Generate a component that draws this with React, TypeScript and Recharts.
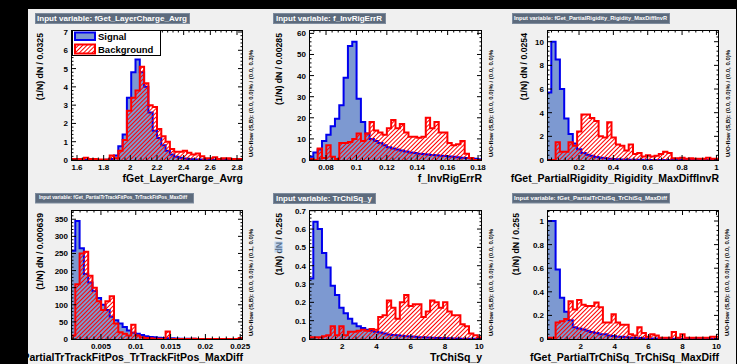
import React from 'react'
import { ComposedChart, Area, XAxis, YAxis } from 'recharts'

const FONT = '"Liberation Sans", Arial, Helvetica, sans-serif'
const SIG_LINE = '#0000ee'
const SIG_FILL = '#7d99d1'
const BKG_LINE = '#ff0000'

// fGet_LayerCharge_Avrg
const layerChargeSig = [
  0, 0, 0, 0, 0, 0, 0, 0, 0.02, 0.05, 0.25, 0.75, 1.4, 3.4, 4.8, 5.5, 4.8, 4.0, 2.6, 1.6,
  1.2, 0.8, 0.5, 0.3, 0.18, 0.12, 0.08, 0.06, 0.04, 0.03, 0.03, 0.02, 0.02, 0.01, 0.01, 0.01, 0, 0, 0, 0,
]
const layerChargeBkg = [
  0.05, 0.05, 0.05, 0.12, 0.05, 0.05, 0.03, 0.03, 0.03, 0.25, 0.1, 0.5, 1.1, 2.7, 3.4, 3.8, 5.1, 4.2, 3.0, 2.9,
  1.7, 1.3, 1.0, 0.6, 0.45, 0.45, 0.5, 0.4, 0.3, 0.35, 0.2, 0.1, 0.1, 0.15, 0.05, 0.1, 0.1, 0.05, 0.05, 0.05,
]
const layerChargeXTicks = [1.6, 1.8, 2, 2.2, 2.4, 2.6, 2.8]
const layerChargeYTicks = [0, 1, 2, 3, 4, 5, 6, 7]

// f_InvRigErrR
const invRigSig = [
  1.5, 3.5, 5, 9, 12, 16, 19.5, 26, 39, 54, 56, 29, 18, 12.5, 10, 9, 8, 7, 6, 5.5,
  5, 4.5, 4, 3.6, 3.3, 3, 2.8, 2.6, 2.4, 2.2, 2, 1.9, 1.7, 1.5, 1.3, 1.1, 1, 0.8, 0.6, 0.4,
]
const invRigBkg = [
  0.5, 0, 5.5, 1, 7, 1.5, 0.5, 8, 8, 8.5, 10, 12.5, 9, 12.5, 18, 14, 13, 12, 15, 19,
  15, 17, 13, 11, 11, 10.5, 11, 20, 15, 18, 13, 13, 8, 7, 7.5, 9, 3, 1, 0, 0,
]
const invRigXTicks = [0.08, 0.1, 0.12, 0.14, 0.16, 0.18]
const invRigYTicks = [0, 10, 20, 30, 40, 50, 60]

// fGet_PartialRigidity_Rigidity_MaxDiffInvR
const partRigSig = [
  5.7, 10, 8.5, 6, 3.5, 2.2, 1.4, 0.9, 0.6, 0.45, 0.35, 0.25, 0.2, 0.15, 0.1, 0.08, 0.06, 0.05, 0.04, 0.03,
  0.03, 0.02, 0.02, 0.01, 0.01, 0.01, 0, 0, 0, 0, 0, 0, 0, 0, 0, 0, 0, 0, 0, 0,
]
const partRigBkg = [
  0, 0, 1.5, 0.7, 0.7, 1.5, 1.2, 2.4, 3.85, 3.85, 3.55, 3.3, 2.0, 1.9, 3.2, 1.9, 1.3, 1.2, 0.8, 1.3,
  0.5, 0.6, 0.3, 0.4, 0.3, 0.35, 0.5, 0.7, 0.6, 0.15, 0.15, 0.2, 0.1, 0.15, 0.1, 0.1, 0.1, 0.2, 0.1, 0.1,
]
const partRigXTicks = [0.2, 0.4, 0.6, 0.8, 1]
const partRigYTicks = [0, 2, 4, 6, 8, 10]

// fGet_PartialTrTrackFitPos_TrTrackFitPos_MaxDiff
const fitPosSig = [
  258, 345, 265, 190, 165, 140, 120, 100, 85, 65, 55, 45, 35, 25, 18, 15, 12, 8, 6, 5,
  4, 3, 2.5, 2, 1.5, 1, 1, 0.5, 0.5, 0, 0, 0, 0, 0, 0, 0, 0, 0, 0, 0,
]
const fitPosBkg = [
  10, 160, 250, 255, 185, 150, 110, 85, 110, 125, 45, 20, 15, 10, 42, 10, 5, 3, 2, 1,
  1, 0, 22, 0, 0, 0, 0, 0, 1, 0, 0, 0, 0, 0, 0, 0, 0, 0, 0, 3,
]
const fitPosXTicks = [0.005, 0.01, 0.015, 0.02, 0.025]
const fitPosYTicks = [0, 50, 100, 150, 200, 250, 300, 350]

// TrChiSq_y
const chiSqSig = [
  0.33, 0.64, 0.6, 0.47, 0.39, 0.29, 0.24, 0.17, 0.14, 0.11, 0.085, 0.07, 0.06, 0.05, 0.045, 0.04, 0.035, 0.03, 0.025, 0.022,
  0.02, 0.018, 0.015, 0.013, 0.012, 0.01, 0.009, 0.008, 0.007, 0.006, 0.005, 0.005, 0.004, 0.003, 0.003, 0.002, 0.002, 0.001, 0.001, 0.001,
]
const chiSqBkg = [
  0.01, 0.01, 0.01, 0.015, 0.02, 0.07, 0.02, 0.07, 0.02, 0.04, 0.04, 0.045, 0.05, 0.045, 0.055, 0.05, 0.12, 0.13, 0.21, 0.17,
  0.11, 0.2, 0.24, 0.18, 0.19, 0.19, 0.12, 0.15, 0.21, 0.2, 0.17, 0.2, 0.15, 0.13, 0.13, 0.08, 0.07, 0.03, 0.02, 0.01,
]
const chiSqXTicks = [2, 4, 6, 8, 10]
const chiSqYTicks = [0, 0.1, 0.2, 0.3, 0.4, 0.5, 0.6, 0.7]

// fGet_PartialTrChiSq_TrChiSq_MaxDiff
const partChiSig = [
  1.0, 1.0, 0.59, 0.35, 0.23, 0.16, 0.1, 0.09, 0.08, 0.07, 0.06, 0.05, 0.04, 0.04, 0.03, 0.025, 0.02, 0.02, 0.015, 0.01,
  0.01, 0.008, 0.006, 0.005, 0.004, 0.004, 0.003, 0.002, 0.002, 0.002, 0.001, 0.001, 0.001, 0, 0, 0, 0, 0, 0, 0,
]
const partChiBkg = [
  0.01, 0.01, 0.14, 0.15, 0.17, 0.32, 0.25, 0.33, 0.29, 0.28, 0.28, 0.31, 0.27, 0.14, 0.14, 0.21, 0.14, 0.12, 0.12, 0.04,
  0.03, 0.1, 0.05, 0.02, 0.04, 0.03, 0.01, 0.01, 0.01, 0.06, 0.01, 0.04, 0.01, 0.01, 0.01, 0.01, 0.01, 0.01, 0.02, 0.02,
]
const partChiXTicks = [2, 4, 6, 8, 10]
const partChiYTicks = [0, 0.2, 0.4, 0.6, 0.8, 1]

type Frame = { x: number; y: number; w: number; h: number }
type Panel = {
  title: string
  xTitle: string
  yTitle: string
  flow: string
  sig: number[]
  bkg: number[]
  xDomain: [number, number]
  yMax: number
  xTicks: number[]
  yTicks: number[]
  frame: Frame
  box: { x: number; y: number; w: number; h: number; tx: number; tw: number; fs: number; base: number }
  yTitleX: number
  flowX: number
}

const panels: Panel[] = [
  {
    title: 'Input variable: fGet_LayerCharge_Avrg',
    xTitle: 'fGet_LayerCharge_Avrg',
    yTitle: '(1/N) dN / 0.0325',
    flow: 'U/O-flow (S,B): (0.0, 0.0)% / (0.0, 0.3)%',
    sig: layerChargeSig,
    bkg: layerChargeBkg,
    xDomain: [1.555, 2.845],
    yMax: 7.11,
    xTicks: layerChargeXTicks,
    yTicks: layerChargeYTicks,
    frame: { x: 71, y: 30, w: 172, h: 130 },
    box: { x: 35, y: 13, w: 154, h: 10, tx: 37, tw: 150, fs: 7, base: 7.6 },
    yTitleX: 43,
    flowX: 253,
  },
  {
    title: 'Input variable: f_InvRigErrR',
    xTitle: 'f_InvRigErrR',
    yTitle: '(1/N) dN / 0.00285',
    flow: 'U/O-flow (S,B): (0.0, 0.0)% / (0.0, 0.0)%',
    sig: invRigSig,
    bkg: invRigBkg,
    xDomain: [0.0688, 0.1826],
    yMax: 61.6,
    xTicks: invRigXTicks,
    yTicks: invRigYTicks,
    frame: { x: 309, y: 30, w: 173, h: 130 },
    box: { x: 273, y: 13, w: 112, h: 10, tx: 276, tw: 106, fs: 7, base: 7.6 },
    yTitleX: 282,
    flowX: 493,
  },
  {
    title: 'Input variable: fGet_PartialRigidity_Rigidity_MaxDiffInvR',
    xTitle: 'fGet_PartialRigidity_Rigidity_MaxDiffInvR',
    yTitle: '(1/N) dN / 0.0254',
    flow: 'U/O-flow (S,B): (0.0, 0.0)% / (0.0, 0.0)%',
    sig: partRigSig,
    bkg: partRigBkg,
    xDomain: [0.0136, 1.015],
    yMax: 10.99,
    xTicks: partRigXTicks,
    yTicks: partRigYTicks,
    frame: { x: 547, y: 30, w: 172, h: 130 },
    box: { x: 512, y: 13, w: 157, h: 10, tx: 514, tw: 153, fs: 5, base: 6.6 },
    yTitleX: 527,
    flowX: 730,
  },
  {
    title: 'Input variable: fGet_PartialTrTrackFitPos_TrTrackFitPos_MaxDiff',
    xTitle: 'fGet_PartialTrTrackFitPos_TrTrackFitPos_MaxDiff',
    yTitle: '(1/N) dN / 0.000639',
    flow: 'U/O-flow (S,B): (0.0, 0.0)% / (0.1, 0.0)%',
    sig: fitPosSig,
    bkg: fitPosBkg,
    xDomain: [0.0007, 0.0254],
    yMax: 377,
    xTicks: fitPosXTicks,
    yTicks: fitPosYTicks,
    frame: { x: 71, y: 210, w: 172, h: 129 },
    box: { x: 35, y: 193, w: 158, h: 9.5, tx: 39, tw: 148, fs: 4.8, base: 6.3 },
    yTitleX: 43,
    flowX: 253,
  },
  {
    title: 'Input variable: TrChiSq_y',
    xTitle: 'TrChiSq_y',
    yTitle: '(1/N) dN / 0.255',
    flow: 'U/O-flow (S,B): (0.0, 0.0)% / (0.0, 0.0)%',
    sig: chiSqSig,
    bkg: chiSqBkg,
    xDomain: [0.055, 10.16],
    yMax: 0.704,
    xTicks: chiSqXTicks,
    yTicks: chiSqYTicks,
    frame: { x: 309, y: 210, w: 173, h: 129 },
    box: { x: 273, y: 193, w: 102, h: 10, tx: 276, tw: 96, fs: 7, base: 7.6 },
    yTitleX: 282,
    flowX: 493,
  },
  {
    title: 'Input variable: fGet_PartialTrChiSq_TrChiSq_MaxDiff',
    xTitle: 'fGet_PartialTrChiSq_TrChiSq_MaxDiff',
    yTitle: '(1/N) dN / 0.255',
    flow: 'U/O-flow (S,B): (0.0, 0.0)% / (0.0, 0.0)%',
    sig: partChiSig,
    bkg: partChiBkg,
    xDomain: [0.013, 10.15],
    yMax: 1.0935,
    xTicks: partChiXTicks,
    yTicks: partChiYTicks,
    frame: { x: 547, y: 210, w: 172, h: 129 },
    box: { x: 512, y: 193, w: 157, h: 9.5, tx: 514, tw: 153, fs: 5.2, base: 6.5 },
    yTitleX: 519,
    flowX: 729,
  },
]

const withMinors = (majors: number[], domain: [number, number]) => {
  const step = (majors[1] - majors[0]) / 5
  const out: number[] = []
  const k0 = Math.ceil((domain[0] - 1e-9) / step)
  const k1 = Math.floor((domain[1] + 1e-9) / step)
  for (let k = k0; k <= k1; k++) out.push(+(k * step).toPrecision(10))
  return { all: out, step }
}

const isMajor = (majors: number[], v: number, step: number) =>
  majors.some((m) => Math.abs(m - v) < step * 0.05)

function PanelChart({ p }: { p: Panel }) {
  const f = p.frame
  const n = p.sig.length
  const edge = (i: number) => p.xDomain[0] + (i * (p.xDomain[1] - p.xDomain[0])) / n
  const rows = [
    { x: edge(0), s: 0, b: 0 },
    ...p.sig.map((s, i) => ({ x: edge(i), s, b: p.bkg[i] })),
    { x: edge(n), s: 0, b: 0 },
  ]
  const xt = withMinors(p.xTicks, p.xDomain)
  const yt = withMinors(p.yTicks, [0, p.yMax])

  const xTick = (props: any) => {
    const { x, y, payload } = props
    const major = isMajor(p.xTicks, payload.value, xt.step)
    const len = major ? 5 : 2.5
    const top = y - f.h
    return (
      <g>
        <line x1={x} x2={x} y1={y} y2={y - len} stroke="#000" strokeWidth={1} />
        <line x1={x} x2={x} y1={top} y2={top + len} stroke="#000" strokeWidth={1} />
        {major && (
          <text x={x} y={y + 9.5} textAnchor="middle" fontSize={8} fontWeight="bold" fontFamily={FONT} fill="#000">
            {String(payload.value)}
          </text>
        )}
      </g>
    )
  }

  const yTick = (props: any) => {
    const { x, y, payload } = props
    const major = isMajor(p.yTicks, payload.value, yt.step)
    const len = major ? 5 : 2.5
    const right = x + f.w
    return (
      <g>
        <line x1={x} x2={x + len} y1={y} y2={y} stroke="#000" strokeWidth={1} />
        <line x1={right} x2={right - len} y1={y} y2={y} stroke="#000" strokeWidth={1} />
        {major && (
          <text x={x - 3} y={y + 3} textAnchor="end" fontSize={8} fontWeight="bold" fontFamily={FONT} fill="#000">
            {String(payload.value)}
          </text>
        )}
      </g>
    )
  }

  return (
    <div style={{ position: 'absolute', left: f.x - 40, top: f.y - 5 }}>
      <ComposedChart
        width={f.w + 50}
        height={f.h + 25}
        data={rows}
        margin={{ top: 5, right: 10, bottom: 0, left: 0 }}
      >
        <defs>
          <pattern
            id={`hatch${f.x}_${f.y}`}
            patternUnits="userSpaceOnUse"
            width={3}
            height={3}
            patternTransform="rotate(45)"
          >
            <rect x={0} y={0} width={1} height={3} fill="#ff0000" />
          </pattern>
        </defs>
        <XAxis
          type="number"
          dataKey="x"
          domain={p.xDomain}
          allowDataOverflow
          ticks={xt.all}
          interval={0}
          tick={xTick}
          tickLine={false}
          axisLine={false}
          tickSize={0}
          tickMargin={0}
          height={20}
        />
        <YAxis
          type="number"
          domain={[0, p.yMax]}
          allowDataOverflow
          ticks={yt.all}
          interval={0}
          tick={yTick}
          tickLine={false}
          axisLine={false}
          tickSize={0}
          tickMargin={0}
          width={40}
        />
        <Area
          type="stepAfter"
          dataKey="s"
          stroke={SIG_LINE}
          strokeWidth={2}
          fill={SIG_FILL}
          fillOpacity={1}
          dot={false}
          activeDot={false}
          isAnimationActive={false}
        />
        <Area
          type="stepAfter"
          dataKey="b"
          stroke={BKG_LINE}
          strokeWidth={2}
          fill={`url(#hatch${f.x}_${f.y})`}
          fillOpacity={1}
          dot={false}
          activeDot={false}
          isAnimationActive={false}
        />
      </ComposedChart>
    </div>
  )
}

const bold = { fontFamily: FONT, fontWeight: 'bold' as const }

export default function App() {
  return (
    <div
      style={{
        position: 'absolute',
        left: 0,
        top: 0,
        width: 737,
        height: 364,
        background: '#000',
        overflow: 'hidden',
      }}
    >
      <div style={{ position: 'absolute', left: 28, top: 9, width: 708, height: 355, background: '#f0f0f0' }} />
      <svg width={737} height={364} style={{ position: 'absolute', left: 0, top: 0 }}>
        {panels.map((p, i) => (
          <rect key={i} x={p.frame.x} y={p.frame.y} width={p.frame.w} height={p.frame.h} fill="#ffffff" />
        ))}
      </svg>
      {panels.map((p, i) => (
        <PanelChart key={i} p={p} />
      ))}
      <svg width={737} height={364} style={{ position: 'absolute', left: 0, top: 0, pointerEvents: 'none' }}>
        <defs>
          <pattern id="legendHatch" patternUnits="userSpaceOnUse" width={3} height={3} patternTransform="rotate(45)">
            <rect x={0} y={0} width={1} height={3} fill="#ff0000" />
          </pattern>
        </defs>
        {panels.map((p, i) => {
          const f = p.frame
          const b = p.box
          return (
            <g key={i}>
              <rect x={f.x + 0.5} y={f.y + 0.5} width={f.w - 1} height={f.h} fill="none" stroke="#000" strokeWidth={1} />
              <rect x={b.x + 0.5} y={b.y + 0.5} width={b.w} height={b.h} fill="#5d6b7d" stroke="#7d8b9d" strokeWidth={1} />
              <text
                x={b.tx}
                y={b.y + b.base}
                fontSize={b.fs}
                fill="#ffffff"
                textLength={b.tw}
                lengthAdjust="spacingAndGlyphs"
                {...bold}
              >
                {p.title}
              </text>
              <text
                x={p.yTitleX}
                y={f.y + 3}
                fontSize={8.7}
                textAnchor="end"
                transform={`rotate(-90 ${p.yTitleX} ${f.y + 3})`}
                fill="#000"
                {...bold}
              >
                {p.yTitle}
              </text>
              <text
                x={p.flowX}
                y={f.y + f.h - 3}
                fontSize={5}
                textLength={107}
                lengthAdjust="spacingAndGlyphs"
                transform={`rotate(-90 ${p.flowX} ${f.y + f.h - 3})`}
                fill="#000"
                {...bold}
              >
                {p.flow}
              </text>
              <text x={f.x + f.w} y={f.y + f.h + 21.5} fontSize={10.5} textAnchor="end" fill="#000" {...bold}>
                {p.xTitle}
              </text>
            </g>
          )
        })}
        <rect x={274.5} y={241.5} width={8} height={11} fill="#9cc2ee" opacity={0.6} />
        <g>
          <rect x={72.5} y={30.5} width={88} height={25} fill="#ffffff" stroke="#000" strokeWidth={1} />
          <rect x={75} y={32.5} width={20} height={7.5} fill={SIG_FILL} stroke={SIG_LINE} strokeWidth={2} />
          <rect x={75} y={44.5} width={20} height={9} fill="url(#legendHatch)" stroke={BKG_LINE} strokeWidth={2} />
          <text x={98} y={39.6} fontSize={9.5} fill="#000" {...bold}>
            Signal
          </text>
          <text x={98} y={52.6} fontSize={9.5} fill="#000" {...bold}>
            Background
          </text>
        </g>
        <rect x={0} y={0} width={28} height={364} fill="#000" />
        <rect x={0} y={0} width={737} height={9} fill="#000" />
        <rect x={736} y={0} width={1} height={364} fill="#000" />
      </svg>
    </div>
  )
}
